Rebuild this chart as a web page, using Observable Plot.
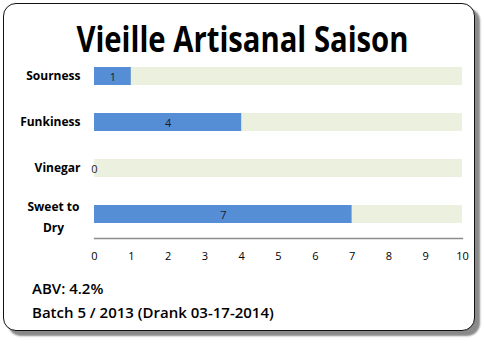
<!DOCTYPE html>
<html>
<head>
<meta charset="utf-8">
<script src="https://cdn.jsdelivr.net/npm/d3@7"></script>
<script src="https://cdn.jsdelivr.net/npm/@observablehq/plot@0.6"></script>
<style>
  html, body { margin: 0; padding: 0; background: #fff; }
  #wrap { position: relative; width: 485px; height: 345px; overflow: hidden; font-family: "Open Sans", sans-serif; }
  #card { position: absolute; left: 3px; top: 3px; width: 470px; height: 326px; border: 1.5px solid #111; border-radius: 13px; box-shadow: 5px 5px 2px #8a8a8a; background: #fff; }
  #title { position: absolute; left: 0; top: 14px; width: 485px; text-align: center; font-weight: 700; font-size: 36px; line-height: 50px; color: #000; white-space: nowrap; }
  #title span { display: inline-block; transform-origin: center; }
  #chart { position: absolute; left: 0; top: 50px; }
  .foot { position: absolute; left: 32px; font-weight: 600; font-size: 15px; color: #000; white-space: nowrap; }
</style>
</head>
<body>
<div id="wrap">
  <div id="card"></div>
  <div id="title"><span>Vieille Artisanal Saison</span></div>
  <div id="chart"></div>
  <div class="foot" id="abv" style="top:278px">ABV: 4.2%</div>
  <div class="foot" id="batch" style="top:302px">Batch 5 / 2013 (Drank 03-17-2014)</div>
</div>
<script>
const categories = ["Sourness", "Funkiness", "Vinegar", "Sweet to\nDry"];
const values = [1, 4, 0, 7];
const maxScore = 10;
const tickValues = [0, 1, 2, 3, 4, 5, 6, 7, 8, 9, 10];

const rows = categories.map((c, i) => ({category: c, value: values[i], max: maxScore}));

const chart = Plot.plot({
  width: 485,
  height: 225,
  marginLeft: 94,
  marginRight: 23,
  marginTop: 2,
  marginBottom: 37,
  style: {fontFamily: "'Open Sans', sans-serif", background: "transparent"},
  x: {domain: [0, maxScore], ticks: tickValues, axis: null},
  y: {domain: categories, paddingInner: 0.614, paddingOuter: 0.3, axis: null},
  marks: [
    Plot.barX(rows, {x1: 0, x2: "max", y: "category", fill: "#EBF1DE"}),
    Plot.barX(rows, {x1: 0, x2: "value", y: "category", fill: "#558ED5"}),
    Plot.text(rows, {x: d => d.value / 2, y: "category", text: d => String(d.value), fill: "#1a1a2a", fontSize: 11, dy: 1}),
    Plot.frame({anchor: "bottom", stroke: "#8c8c8c", strokeWidth: 1.3}),
    Plot.axisX({ticks: tickValues, tickSize: 0, tickPadding: 14, fontSize: 11, tickFormat: d => String(d), color: "#000"}),
    Plot.text(rows.filter(d => !d.category.includes("\n")), {y: "category", frameAnchor: "left", text: "category", textAnchor: "end", dx: -14, fontSize: 12, fontWeight: 700, fill: "#000"}),
    Plot.text(rows.filter(d => d.category.includes("\n")), {y: "category", frameAnchor: "left", text: "category", textAnchor: "middle", dx: -41, fontSize: 12, fontWeight: 700, fill: "#000", lineHeight: 1.8})
  ]
});
document.getElementById("chart").appendChild(chart);

// fit title width to reference proportions
const span = document.querySelector("#title span");
const w = span.getBoundingClientRect().width;
span.style.transform = `scaleX(${332 / w})`;
</script>
</body>
</html>
